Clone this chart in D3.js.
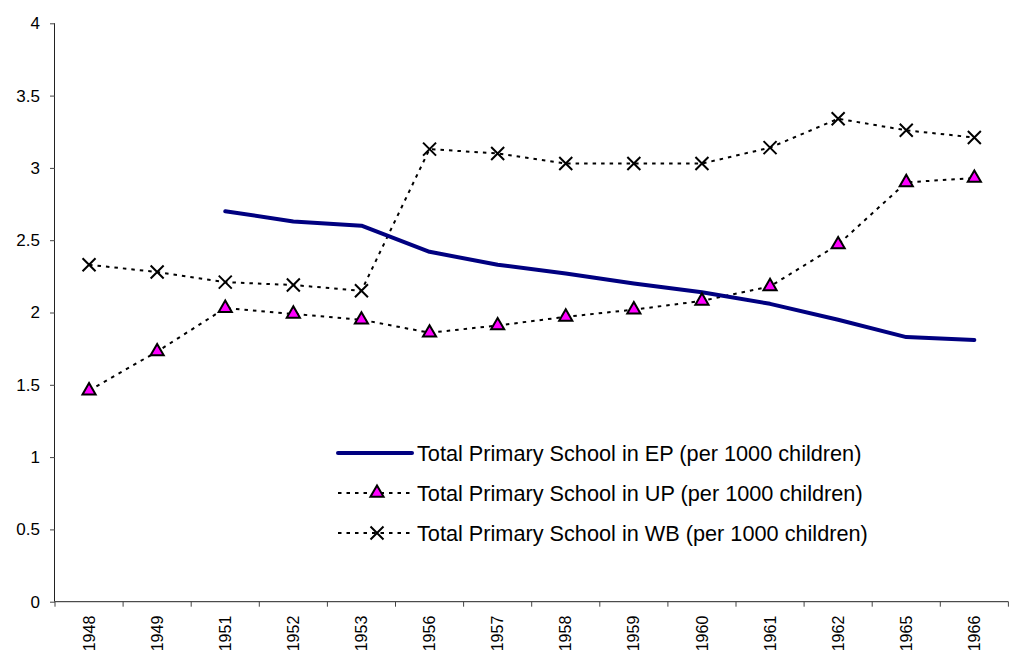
<!DOCTYPE html>
<html>
<head>
<meta charset="utf-8">
<script src="https://cdn.jsdelivr.net/npm/d3@7/dist/d3.min.js"></script>
<style>
  html, body { margin: 0; padding: 0; background: #fff; }
  svg { display: block; font-family: "Liberation Sans", Arial, sans-serif; }
</style>
</head>
<body>
<svg id="chart" width="1028" height="655"></svg>
<script>
// Survey years on the category axis
const years = ["1948","1949","1951","1952","1953","1956","1957","1958","1959","1960","1961","1962","1965","1966"];

// Primary schools per 1000 children
const epValues = [null, null, 2.70, 2.63, 2.60, 2.42, 2.33, 2.27, 2.20, 2.14, 2.06, 1.95, 1.83, 1.81];
const upValues = [1.46, 1.73, 2.03, 1.99, 1.95, 1.86, 1.91, 1.97, 2.02, 2.08, 2.18, 2.47, 2.90, 2.93];
const wbValues = [2.33, 2.28, 2.21, 2.19, 2.15, 3.13, 3.10, 3.03, 3.03, 3.03, 3.14, 3.34, 3.26, 3.21];

const yTicks = [0, 0.5, 1, 1.5, 2, 2.5, 3, 3.5, 4];

const seriesNames = [
  "Total Primary School in EP (per 1000 children)",
  "Total Primary School in UP (per 1000 children)",
  "Total Primary School in WB (per 1000 children)"
];

const svg = d3.select("#chart");

const plotLeft = 55, plotTop = 23.3, plotBottom = 601.7;
const step = 68.1;

const x = d3.scaleBand().domain(years).range([plotLeft, plotLeft + step * years.length]).padding(0);
const y = d3.scaleLinear().domain([0, 4]).range([plotBottom, plotTop]);
const cx = d => x(d) + x.bandwidth() / 2;

// Y axis
const yAxis = svg.append("g")
  .attr("transform", `translate(${plotLeft},0)`)
  .call(d3.axisLeft(y).tickValues(yTicks).tickSize(5).tickPadding(10).tickFormat(d3.format("")));
yAxis.select(".domain").attr("stroke", "#222").attr("d", `M-0.5,${plotTop}V${plotBottom}`);
yAxis.selectAll(".tick line").attr("stroke", "#444");
yAxis.selectAll(".tick text").attr("font-size", 17).attr("fill", "#000")
  .attr("font-family", "Liberation Sans, Arial, sans-serif");

// X axis: line, tick marks between categories, rotated year labels
const xAxis = svg.append("g").attr("transform", `translate(0,${plotBottom})`);
xAxis.append("line")
  .attr("x1", plotLeft).attr("x2", plotLeft + step * years.length)
  .attr("stroke", "#222");
xAxis.selectAll("line.tk")
  .data(years.concat(["end"]))
  .join("line")
  .attr("class", "tk")
  .attr("x1", (d, i) => i < years.length ? x(d) : x(years[years.length - 1]) + x.bandwidth())
  .attr("x2", (d, i) => i < years.length ? x(d) : x(years[years.length - 1]) + x.bandwidth())
  .attr("y1", 0).attr("y2", 5)
  .attr("stroke", "#444");
xAxis.selectAll("text")
  .data(years)
  .join("text")
  .attr("transform", d => `translate(${cx(d)},14) rotate(-90)`)
  .attr("text-anchor", "end")
  .attr("dy", "0.35em")
  .attr("font-size", 16)
  .text(d => d);

// Series lines
const lineGen = vals => d3.line()
  .defined(d => d != null)
  .x((d, i) => cx(years[i]))
  .y(d => y(d))(vals);

svg.append("path")
  .attr("d", lineGen(upValues))
  .attr("fill", "none").attr("stroke", "#000")
  .attr("stroke-width", 2).attr("stroke-dasharray", "3.5,5");

svg.append("path")
  .attr("d", lineGen(wbValues))
  .attr("fill", "none").attr("stroke", "#000")
  .attr("stroke-width", 2).attr("stroke-dasharray", "3.5,5");

svg.append("path")
  .attr("d", lineGen(epValues))
  .attr("fill", "none").attr("stroke", "#000080")
  .attr("stroke-width", 4).attr("stroke-linejoin", "round").attr("stroke-linecap", "round");

// Markers
const tri = d3.symbol().type(d3.symbolTriangle).size(75);
const drawTri = (g, px, py) => g.append("path")
  .attr("d", tri())
  .attr("transform", `translate(${px},${py})`)
  .attr("fill", "#ff00ff").attr("stroke", "#000").attr("stroke-width", 2);
const drawX = (g, px, py) => g.append("path")
  .attr("d", "M-6.5,-6.5L6.5,6.5M-6.5,6.5L6.5,-6.5")
  .attr("transform", `translate(${px},${py})`)
  .attr("stroke", "#000").attr("stroke-width", 2).attr("fill", "none");

const marks = svg.append("g");
upValues.forEach((v, i) => drawTri(marks, cx(years[i]), y(v)));
wbValues.forEach((v, i) => drawX(marks, cx(years[i]), y(v)));

// Legend
const legend = svg.append("g");
const lgX1 = 338, lgX2 = 412, lgText = 417;
const rows = [453, 493, 533];
rows.forEach((ry, i) => {
  const row = legend.append("g");
  if (i === 0) {
    row.append("line").attr("x1", lgX1).attr("x2", lgX2).attr("y1", ry).attr("y2", ry)
      .attr("stroke", "#000080").attr("stroke-width", 4).attr("stroke-linecap", "round");
  } else {
    row.append("line").attr("x1", lgX1).attr("x2", lgX2).attr("y1", ry).attr("y2", ry)
      .attr("stroke", "#000").attr("stroke-width", 2).attr("stroke-dasharray", "3.5,5");
    const mx = (lgX1 + lgX2) / 2 + 2;
    if (i === 1) drawTri(row, mx, ry); else drawX(row, mx, ry);
  }
  row.append("text").attr("x", lgText).attr("y", ry).attr("dy", "0.35em")
    .attr("font-size", 21.7).text(seriesNames[i]);
});
</script>
</body>
</html>
